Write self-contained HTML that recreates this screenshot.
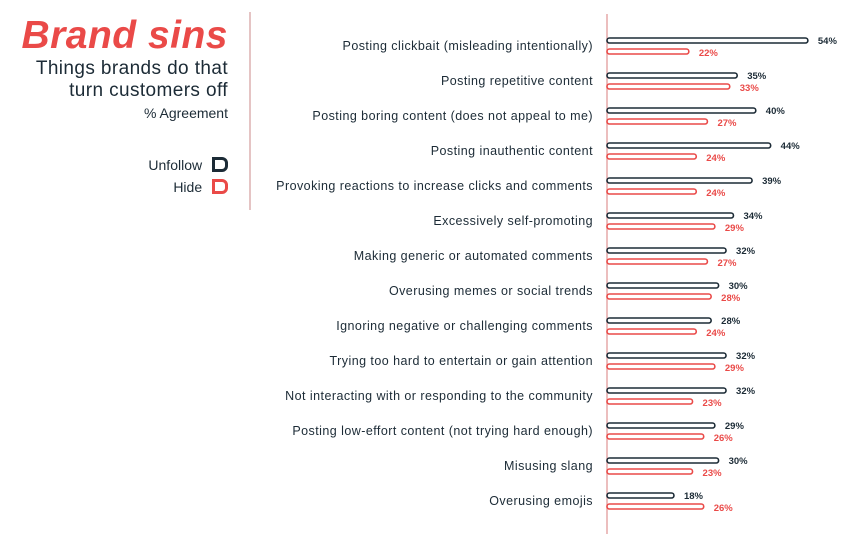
<!DOCTYPE html>
<html><head><meta charset="utf-8"><style>
body{margin:0;width:846px;height:534px;background:#fff;overflow:hidden;font-family:"Liberation Sans",sans-serif;position:relative}
.t{position:absolute;right:618px;text-align:right;white-space:nowrap}
</style></head><body>
<div class="t" style="top:14px;font-size:39px;font-weight:bold;font-style:italic;color:#ea4a48;letter-spacing:0.5px">Brand sins</div>
<div class="t" style="top:58px;font-size:19px;line-height:22px;color:#1c2b36;letter-spacing:0.4px">Things brands do that<br>turn customers off</div>
<div class="t" style="top:105px;font-size:14px;color:#1c2b36">% Agreement</div>
<div class="t" style="top:157px;font-size:14px;color:#1c2b36">Unfollow <span style="display:inline-block;width:10px;height:9px;border:3px solid #1c2b36;border-radius:0 6px 6px 0;vertical-align:-2px;margin-left:6px"></span></div>
<div class="t" style="top:179px;font-size:14px;color:#1c2b36">Hide <span style="display:inline-block;width:10px;height:9px;border:3px solid #ea4a48;border-radius:0 6px 6px 0;vertical-align:-2px;margin-left:6px"></span></div>
<div style="position:absolute;left:249px;top:12px;width:2px;height:198px;background:#e5c4c4"></div>
<svg id="c" width="846" height="534" style="position:absolute;left:0;top:0"></svg>
<script>
const categories=["Posting clickbait (misleading intentionally)","Posting repetitive content","Posting boring content (does not appeal to me)","Posting inauthentic content","Provoking reactions to increase clicks and comments","Excessively self-promoting","Making generic or automated comments","Overusing memes or social trends","Ignoring negative or challenging comments","Trying too hard to entertain or gain attention","Not interacting with or responding to the community","Posting low-effort content (not trying hard enough)","Misusing slang","Overusing emojis"];
const unfollow=[54,35,40,44,39,34,32,30,28,32,32,29,30,18];
const hide=[22,33,27,24,24,29,27,28,24,29,23,26,23,26];
const svg=document.getElementById('c');
const NS='http://www.w3.org/2000/svg';
const x0=607, k=3.72;
const x=v=>x0+v*k;
const y=i=>40+i*35;
function mk(t,a){const e=document.createElementNS(NS,t);for(const q in a)e.setAttribute(q,a[q]);svg.appendChild(e);return e;}
const ax=mk('line',{x1:x0,y1:14,x2:x0,y2:534,stroke:'#e5a8a8','stroke-width':1.5});


categories.forEach((c,i)=>{
  const l=mk('text',{x:593,y:y(i)+10,'text-anchor':'end','font-size':12.5,'letter-spacing':0.45,fill:'#1c2b36'});l.textContent=c;
  
  
  const b1=mk('rect',{x:x0,y:y(i)-2,width:x(unfollow[i])-x0,height:5,rx:2.5,fill:'#fff',stroke:'#1c2b36','stroke-width':1.6});
  
  
  const b2=mk('rect',{x:x0,y:y(i)+9,width:x(hide[i])-x0,height:5,rx:2.5,fill:'#fff',stroke:'#ea4a48','stroke-width':1.6});
  
  
  const v1=mk('text',{x:x(unfollow[i])+10,y:y(i)+4,'font-size':9.5,'font-weight':'bold',fill:'#1c2b36'});v1.textContent=unfollow[i]+'%';
  
  
  const v2=mk('text',{x:x(hide[i])+10,y:y(i)+16,'font-size':9.5,'font-weight':'bold',fill:'#ea4a48'});v2.textContent=hide[i]+'%';
  
  
});
</script>
</body></html>
